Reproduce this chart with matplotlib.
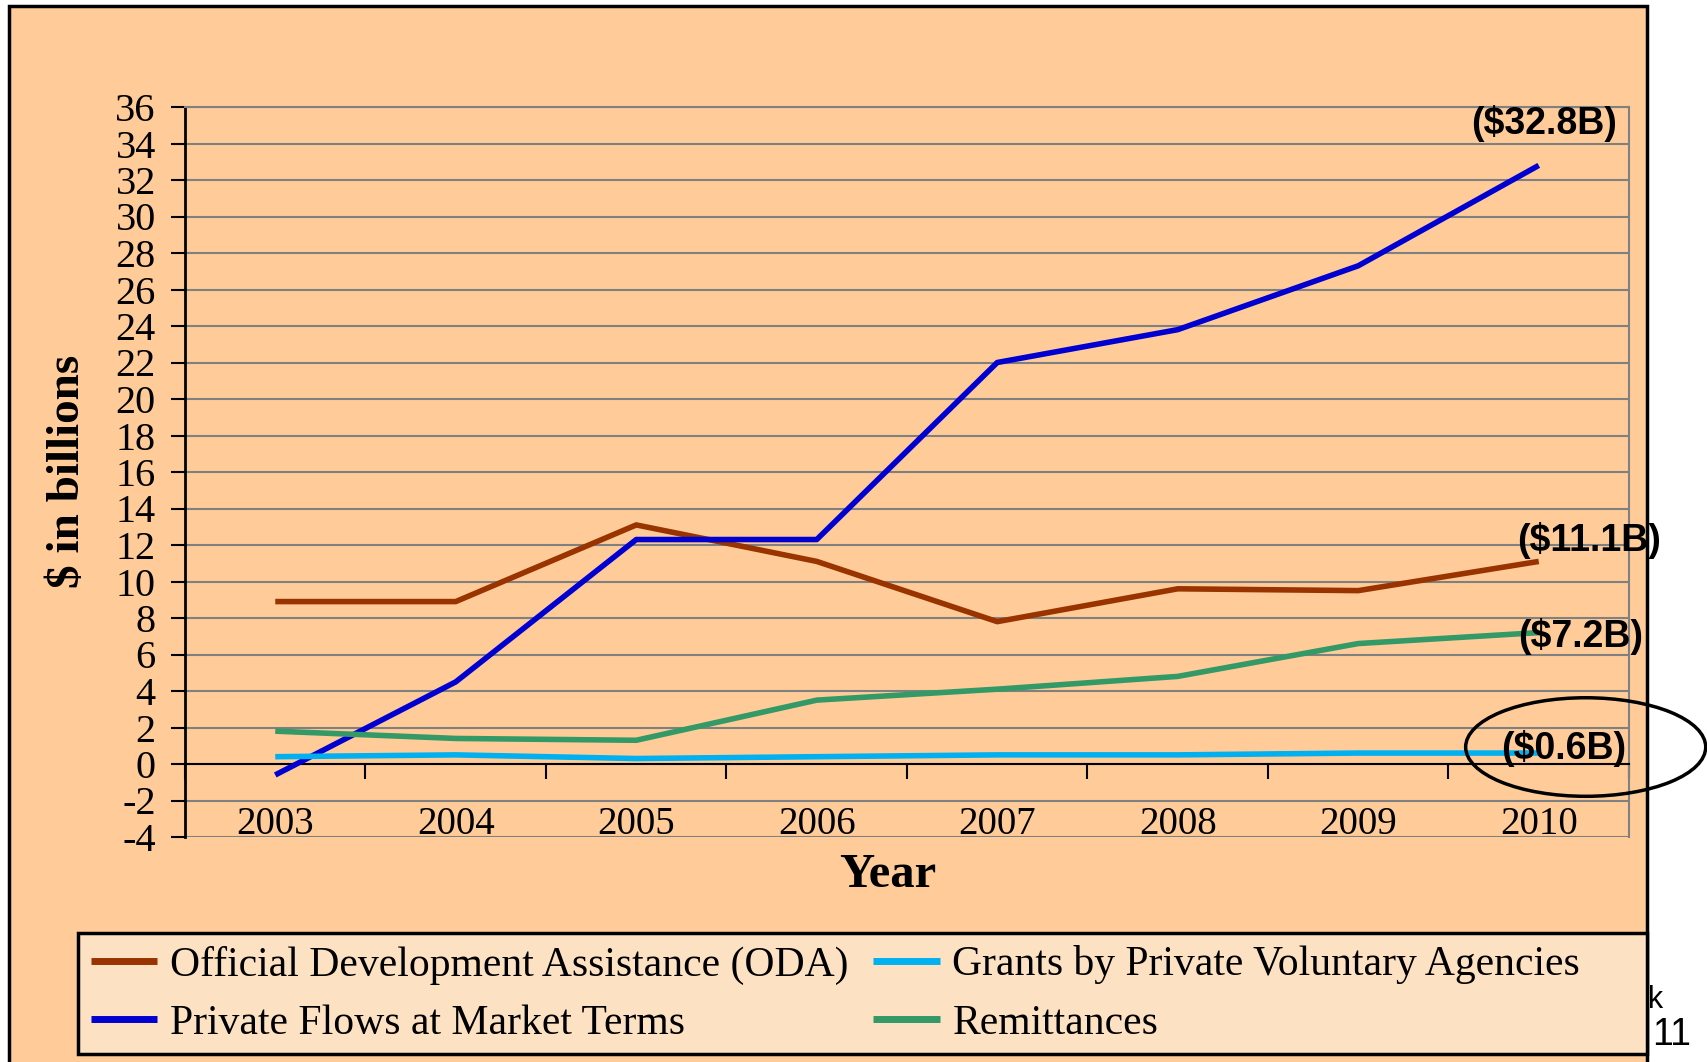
import numpy as np
import matplotlib
matplotlib.use("Agg")
import matplotlib.pyplot as plt
from matplotlib.patches import Rectangle, Ellipse

# data ($ billions)
years = [2003, 2004, 2005, 2006, 2007, 2008, 2009, 2010]
oda = [8.9, 8.9, 13.1, 11.1, 7.8, 9.6, 9.5, 11.1]
private_flows = [-0.6, 4.5, 12.3, 12.3, 22.0, 23.8, 27.3, 32.8]
grants = [0.4, 0.5, 0.3, 0.4, 0.5, 0.5, 0.6, 0.6]
remittances = [1.8, 1.4, 1.3, 3.5, 4.1, 4.8, 6.6, 7.2]

series_names = ["Official Development Assistance (ODA)",
                "Private Flows at Market Terms",
                "Grants by Private Voluntary Agencies",
                "Remittances"]
series_values = [oda, private_flows, grants, remittances]
series_colors = ["#993300", "#0000D0", "#00B0F0", "#339966"]
end_labels = ["($11.1B)", "($32.8B)", "($0.6B)", "($7.2B)"]
end_offsets = [(36, 15), (4, 30), (18, 3), (30, -3)]  # points, from last value

y_ticks = list(range(-4, 37, 2))

PEACH = "#FFCC99"
SERIF = ["Liberation Serif", "DejaVu Serif"]
SANS = ["Liberation Sans", "DejaVu Sans"]

fig = plt.figure(figsize=(17.08, 10.62), dpi=100)
fig.patch.set_facecolor("white")

#outer peach frame
frame = Rectangle((9/1708, -0.02), (1647-9)/1708, 1 - 6/1062 + 0.02,
                  transform=fig.transFigure, facecolor=PEACH, edgecolor="black",
                  lw=2.5, zorder=-1)
fig.add_artist(frame)
# page bits peeking out at the right
fig.text(1648/1708, 1 - 1000/1062, "k", fontsize=22, family=SANS,
         ha="left", va="center", zorder=-2)
fig.text(1652/1708, 1 - 1035/1062, "11", fontsize=27, family=SANS,
         ha="left", va="center")

ax = fig.add_axes([185/1708, 1 - 837/1062, (1629-185)/1708, (837-107)/1062])
ax.patch.set_alpha(0)

x = np.arange(len(years))
for vals, name, col in zip(series_values, series_names, series_colors):
    ax.plot(x, vals, color=col, lw=4, label=name, solid_capstyle="butt", zorder=3)

ax.set_xlim(-0.5, len(years) - 0.5)
ax.set_ylim(y_ticks[0], y_ticks[-1])
ax.set_yticks(y_ticks)
ax.set_yticklabels([str(v) for v in y_ticks], family=SERIF, fontsize=29)
ax.yaxis.grid(True, color="#808080", lw=1.5, zorder=1)
ax.set_axisbelow(True)

# category axis crosses at zero, ticks between categories
ax.spines["bottom"].set_position(("data", 0))
ax.spines["bottom"].set_color("black")
ax.spines["bottom"].set_linewidth(1.5)
ax.set_xticks(np.arange(len(years) + 1) - 0.5)
ax.set_xticklabels([])
ax.tick_params(axis="x", direction="out", length=11, width=1.5, color="black")
ax.tick_params(axis="y", direction="out", length=10, width=1.5, color="black", pad=11)
ax.spines["left"].set_color("black")
ax.spines["left"].set_linewidth(2)
for s in ["top", "right"]:
    ax.spines[s].set_color("#808080")
    ax.spines[s].set_linewidth(1.5)

# year labels sit on the bottom of the plot area
for i, yr in enumerate(years):
    ax.annotate(str(yr), xy=(i, y_ticks[0]), xytext=(0, 2), textcoords="offset points",
                ha="center", va="baseline", fontsize=28, family=SERIF)

# value callouts at 2010
for vals, lab, off in zip(series_values, end_labels, end_offsets):
    ax.annotate(lab, xy=(x[-1], vals[-1]), xytext=off, textcoords="offset points",
                ha="center", va="center", fontsize=27, fontweight="bold",
                family=SANS, zorder=5, annotation_clip=False)

ell = Ellipse((x[-1] + 0.26, grants[-1] + 0.33), 1.33, 5.4, fill=False,
              edgecolor="black", lw=2.5, clip_on=False, zorder=6)
ax.add_patch(ell)

fig.text(68/1708, 1 - 471/1062, "$ in billions", rotation=90, ha="center",
         va="center", fontsize=34, fontweight="bold", family=SERIF)
fig.text(888/1708, 1 - 875/1062, "Year", ha="center", va="center",
         fontsize=35, fontweight="bold", family=SERIF)

# legend box
box = Rectangle((78/1708, 1 - 1054/1062), (1647-78)/1708, (1054-933)/1062,
                transform=fig.transFigure, facecolor="#FDE1C3", edgecolor="black",
                lw=2.5, zorder=4)
fig.add_artist(box)
leg = fig.legend(loc="upper left", bbox_to_anchor=(78/1708, 1 - 933/1062),
                 ncol=2, frameon=False, prop={"family": SERIF, "size": 30},
                 handlelength=1.6, handletextpad=0.3, columnspacing=0.6,
                 labelspacing=0.48, borderpad=0.3, borderaxespad=0)
leg.set_zorder(5)
for line in leg.get_lines():
    line.set_linewidth(5)

fig.savefig("out.png", dpi=100, facecolor="white")
